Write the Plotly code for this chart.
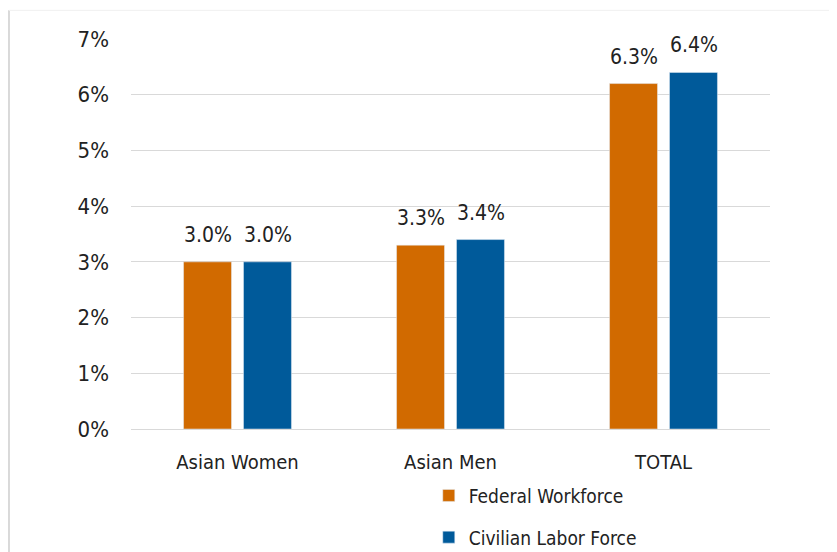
import plotly.graph_objects as go

categories = ["Asian Women", "Asian Men", "TOTAL"]
federal = [3.0, 3.3, 6.2]
civilian = [3.0, 3.4, 6.4]
federal_labels = ["3.0%", "3.3%", "6.3%"]
civilian_labels = ["3.0%", "3.4%", "6.4%"]
y_ticks = [0, 1, 2, 3, 4, 5, 6, 7]
y_ticktext = [f"{t}%" for t in y_ticks]

ORANGE = "#D16A00"
BLUE = "#005A9A"
FONT = "'DejaVu Sans Condensed', Roboto, sans-serif"
TXT = "#222222"

fig = go.Figure()
fig.add_trace(go.Bar(x=categories, y=federal, name="Federal Workforce",
                     marker=dict(color=ORANGE), legendgroup="fed"))
fig.add_trace(go.Bar(x=categories, y=civilian, name="Civilian Labor Force",
                     marker=dict(color=BLUE), legendgroup="clf"))

# data labels sit well above the bars, like the original
for vals, labels, shift in [(federal, federal_labels, -30), (civilian, civilian_labels, 30)]:
    for c, v, t in zip(categories, vals, labels):
        fig.add_annotation(x=c, y=v, text=t, showarrow=False, xshift=shift,
                           yshift=13, yanchor="bottom",
                           font=dict(family=FONT, size=21, color=TXT))

# light frame of the original chart box
fig.add_shape(type="line", xref="paper", yref="paper", x0=-0.191, x1=-0.191,
              y0=1.0734, y1=-0.35, line=dict(color="#d9d9d9", width=2))
fig.add_shape(type="line", xref="paper", yref="paper", x0=-0.191, x1=1.2,
              y0=1.0734, y1=1.0734, line=dict(color="#f0f0f0", width=1))

fig.update_layout(
    width=837, height=552,
    margin=dict(l=123, r=75, t=31, b=131, autoexpand=False),
    paper_bgcolor="white", plot_bgcolor="white",
    barmode="group", bargap=0.437, bargroupgap=0.2,
    font=dict(family=FONT, size=20, color=TXT),
    legend=dict(x=0.466, y=-0.122, xanchor="left", yanchor="top",
                traceorder="grouped", tracegroupgap=14,
                font=dict(family=FONT, size=19, color=TXT)),
)
fig.update_yaxes(range=[0, 7], tickvals=y_ticks, ticktext=y_ticktext,
                 tickfont=dict(size=22),
                 showgrid=True, gridcolor="#d9d9d9", gridwidth=1,
                 zeroline=False, showline=False, ticks="",
                 ticklabelstandoff=21)
fig.update_xaxes(showline=True, linecolor="#d9d9d9", linewidth=1,
                 ticks="", ticklabelstandoff=15)

fig.write_html("out.html")
